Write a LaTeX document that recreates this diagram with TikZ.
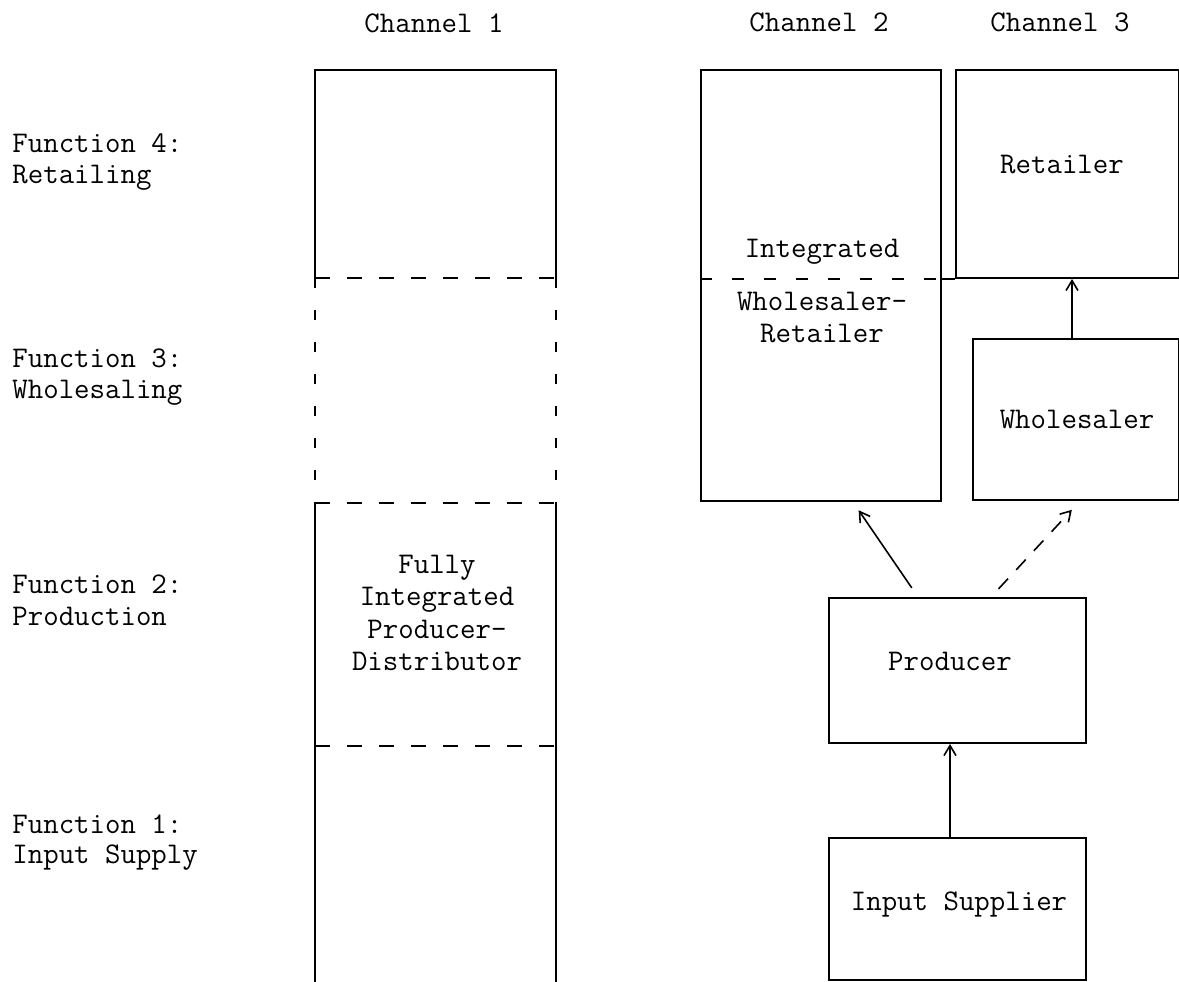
\documentclass[tikz,border=0pt]{standalone}
\usetikzlibrary{arrows.meta}
\begin{document}
\begin{tikzpicture}[x=0.5pt,y=-0.5pt,
  box/.style={draw,line width=1pt,inner sep=0pt,anchor=north west},
  edge/.style={line width=1pt},
  hdash/.style={line width=1pt,dash pattern=on 7.5pt off 8.5pt},
  vdash/.style={line width=1pt,dash pattern=on 5pt off 11pt},
  cdash/.style={line width=1pt,dash pattern=on 6pt off 10pt},
  arr/.style={line width=0.8pt,-{Straight Barb[length=5pt,width=6pt]}},
  darr/.style={arr,dash pattern=on 7pt off 6pt},
  txt/.style={font=\fontsize{15}{18}\selectfont\ttfamily,inner sep=0pt,anchor=base},
  ltxt/.style={txt,anchor=base west}]
\useasboundingbox (0,0) rectangle (1179,981);

% headers
\node[txt] (h1) at (434,32) {Channel 1};
\node[txt] (h2) at (819,31) {Channel 2};
\node[txt] (h3) at (1060,31) {Channel 3};

% function labels
\node[ltxt] (f4a) at (12,152) {Function 4:};
\node[ltxt] (f4b) at (12,183) {Retailing};
\node[ltxt] (f3a) at (12,367) {Function 3:};
\node[ltxt] (f3b) at (12,398) {Wholesaling};
\node[ltxt] (f2a) at (12,593) {Function 2:};
\node[ltxt] (f2b) at (12,625) {Production};
\node[ltxt] (f1a) at (12,833) {Function 1:};
\node[ltxt] (f1b) at (12,863) {Input Supply};

% channel 1 column
\draw[edge] (315,278) -- (315,70) -- (556,70) -- (556,278);
\draw[edge] (315,503) -- (315,985);
\draw[edge] (556,503) -- (556,985);
\draw[vdash] (315,278) -- (315,503);
\draw[vdash] (556,278) -- (556,503);
\draw[hdash] (315,278) -- (556,278);
\draw[hdash] (315,503) -- (556,503);
\draw[hdash] (315,746) -- (556,746);
\node[txt] (c1a) at (437,573) {Fully};
\node[txt] (c1b) at (437,605) {Integrated};
\node[txt] (c1c) at (437,638) {Producer-};
\node[txt] (c1d) at (437,670) {Distributor};

% channel 2 / channel 3 boxes
\node[box,minimum width=120pt,minimum height=215.5pt] (ch2) at (700,69) {};
\node[box,minimum width=111.5pt,minimum height=104pt] (ret) at (955,69) {};
\node[box,minimum width=103pt,minimum height=80.5pt] (whs) at (972,338) {};
\node[box,minimum width=128.5pt,minimum height=72.5pt] (prod) at (828,597) {};
\node[box,minimum width=128.5pt,minimum height=71pt] (inp) at (828,837) {};

\draw[cdash] (ch2.west |- ret.south) -- (ch2.east |- ret.south);
\draw[edge] (ch2.east |- ret.south) -- (ret.south west);

\node[txt] (t2a) at (822,257) {Integrated};
\node[txt] (t2b) at (822,310) {Wholesaler-};
\node[txt] (t2c) at (822,342) {Retailer};
\node[txt] (tret) at (1062,173) {Retailer};
\node[txt] (twhs) at (1077,428) {Wholesaler};
\node[txt] (tprod) at (950,670) {Producer};
\node[txt] (tinp) at (959,910) {Input Supplier};

% connectors
\draw[arr] ([xshift=61pt]inp.north west) -- ([xshift=61pt]prod.south west);
\draw[arr,shorten <=5.5pt,shorten >=5pt] ([xshift=45pt]prod.north west) -- ([xshift=76.5pt]ch2.south west);
\draw[darr,shorten <=5.5pt,shorten >=6pt] ([xshift=81.5pt]prod.north west) -- ([xshift=54pt]whs.south west);
\draw[arr] ([xshift=50pt]whs.north west) -- ([xshift=58.5pt]ret.south west);
\end{tikzpicture}
\end{document}
